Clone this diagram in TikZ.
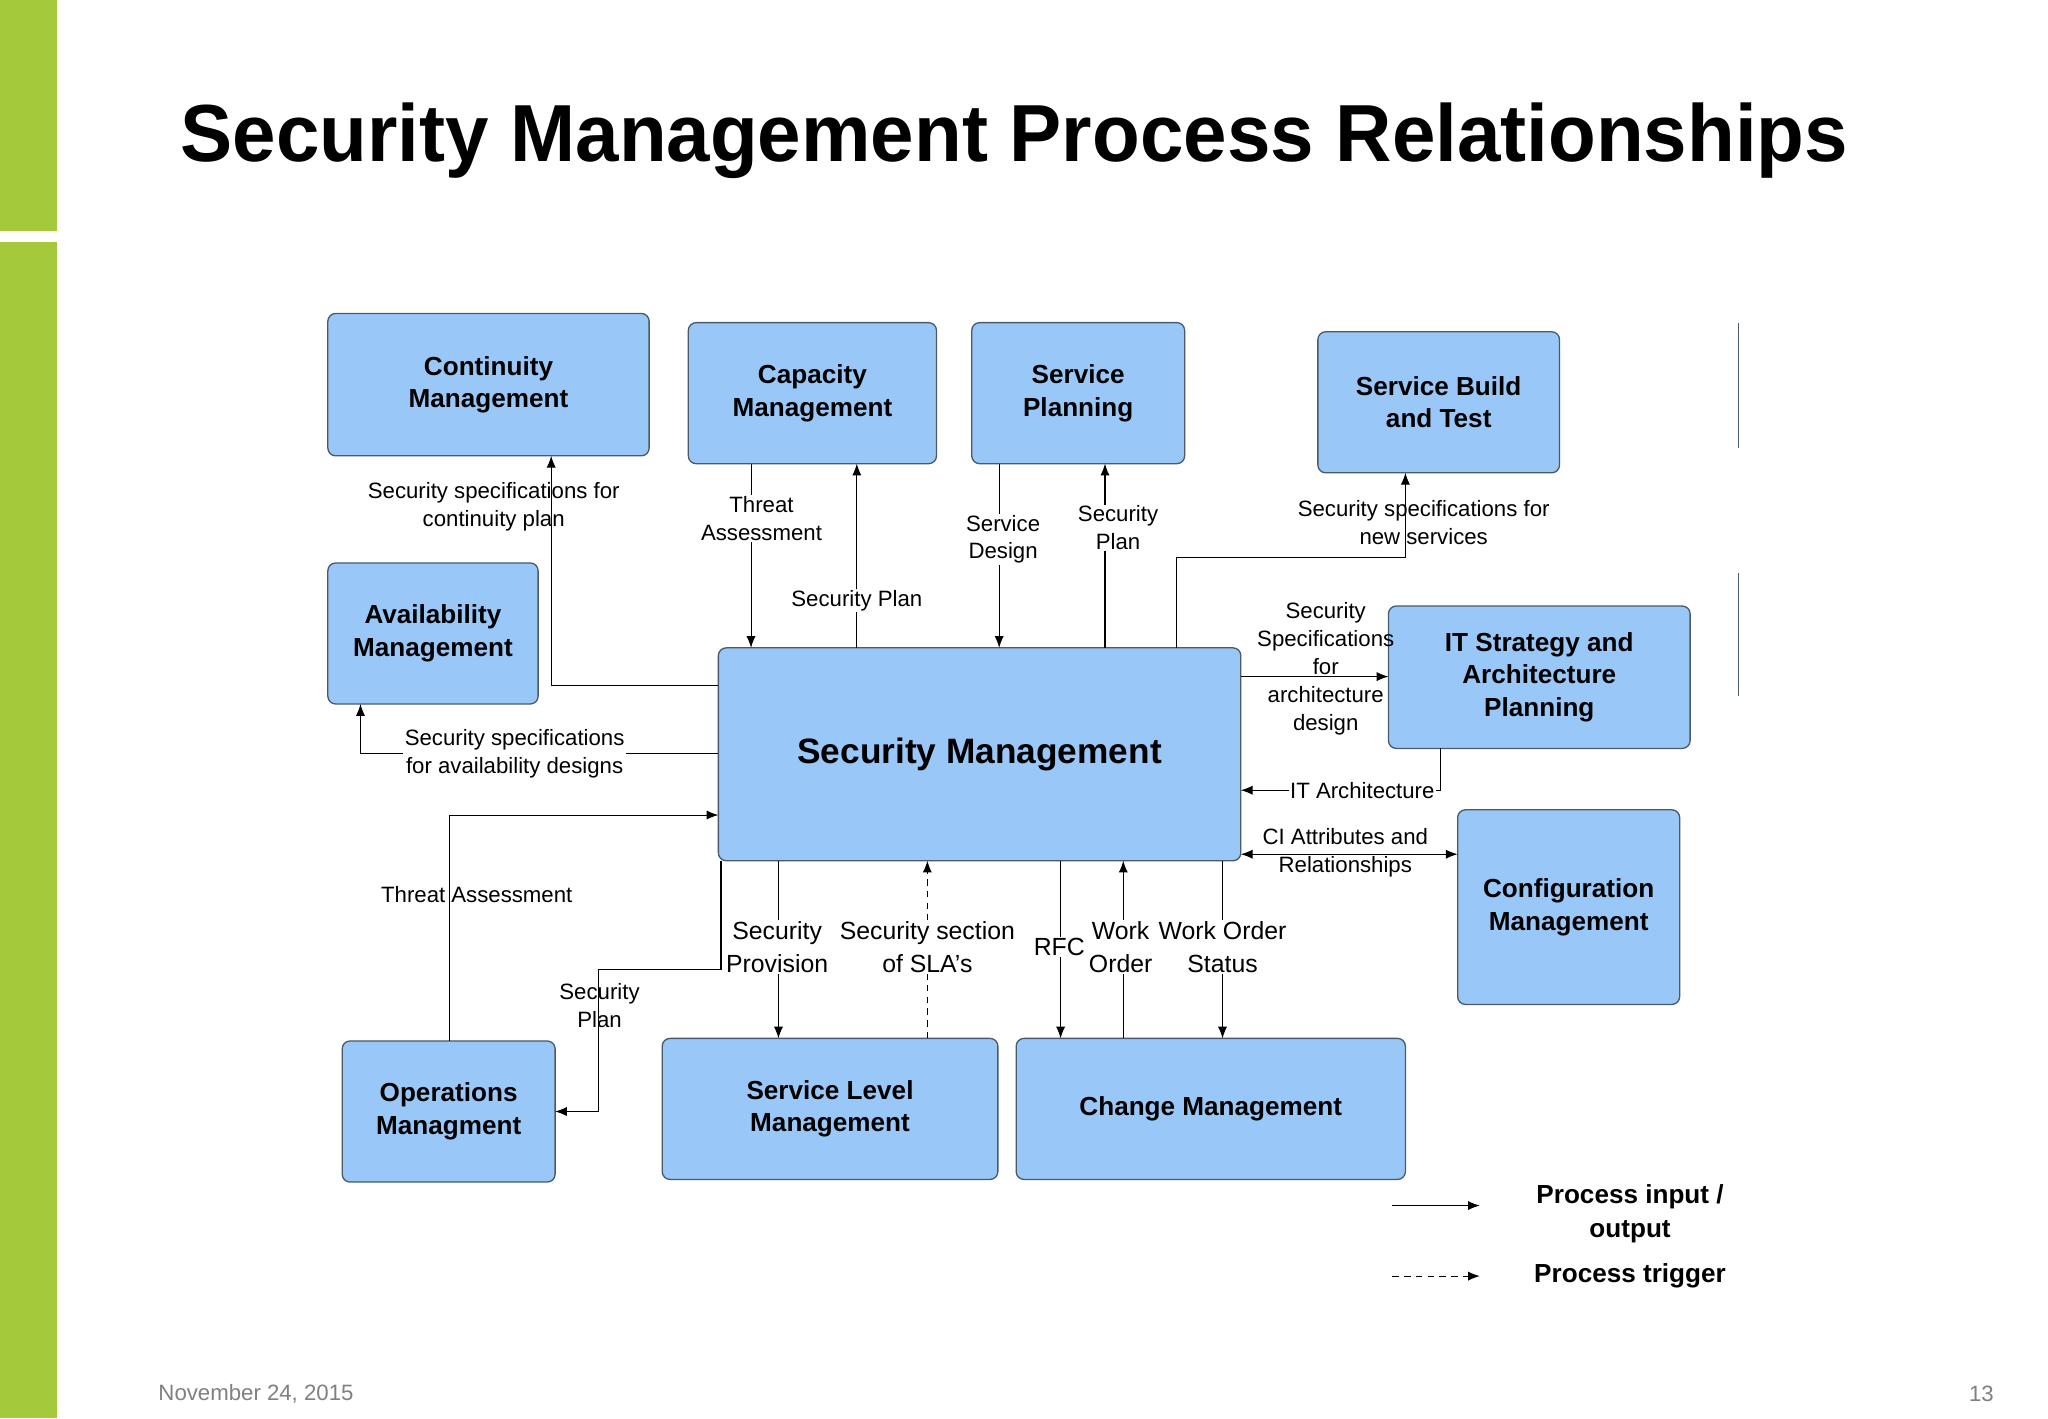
\documentclass[tikz,border=0pt]{standalone}
\usepackage{fontspec}
\setmainfont{Liberation Sans}
\usetikzlibrary{arrows.meta}
\definecolor{boxfill}{HTML}{99C8F8}
\definecolor{boxline}{HTML}{4A5A6A}
\definecolor{barg}{HTML}{A4C93A}
\tikzset{
 box/.style={draw=boxline,line width=1pt,fill=boxfill,rounded corners=6pt,inner sep=0pt,outer sep=0pt,align=center,font=\fontsize{20}{25}\selectfont\bfseries},
 lbl/.style={align=center,font=\fontsize{17}{21}\selectfont,inner sep=1pt},
 arr/.style={-{Latex[length=9pt,width=7pt]},line width=0.8pt},
 darr/.style={arr,dash pattern=on 5pt off 4pt},
}
\begin{document}
\begin{tikzpicture}[x=1pt,y=-1pt]
\useasboundingbox (0,0) rectangle (1568,1086);
\fill[white] (0,0) rectangle (1568,1086);
\fill[barg] (0,0) rectangle (44,177);
\fill[barg] (0,185) rectangle (44,1086);
\node[font=\fontsize{62}{70}\selectfont\bfseries,anchor=west,inner sep=0pt,xscale=0.965] (title) at (138,108) {Security Management Process Relationships};

\node[box,minimum width=246pt,minimum height=109pt] (cont) at (374,294.5) {Continuity\\Management};
\node[box,minimum width=190pt,minimum height=108pt] (cap) at (622,301) {Capacity\\Management};
\node[box,minimum width=163pt,minimum height=108pt] (sp) at (825.5,301) {Service\\Planning};
\node[box,minimum width=185pt,minimum height=108pt] (sb) at (1101.5,308) {Service Build\\and Test};
\node[box,minimum width=161pt,minimum height=108pt] (av) at (331.5,485) {Availability\\Management};
\node[box,minimum width=400pt,minimum height=163pt,font=\fontsize{27}{32}\selectfont\bfseries] (sm) at (750,577.5) {Security Management};
\node[box,minimum width=231pt,minimum height=109pt] (it) at (1178.5,518.5) {IT Strategy and\\Architecture\\Planning};
\node[box,minimum width=170pt,minimum height=149pt] (cf) at (1201,694.5) {Configuration\\Management};
\node[box,minimum width=163pt,minimum height=108pt] (ops) at (343.5,851) {Operations\\Managment};
\node[box,minimum width=257pt,minimum height=108pt] (slm) at (635.5,849) {Service Level\\Management};
\node[box,minimum width=298pt,minimum height=108pt] (chg) at (927,849) {Change Management};

\draw[boxline,line width=1pt] (1331,247) -- (1331,343) (1331,439) -- (1331,533);

% connectors
\draw[arr] (sm.west |- 0,525) -| (cont.south -| 422,0);
\node[lbl] (l1) at (378,388) {Security specifications for\\continuity plan};
\draw[arr] (cap.south -| 575,0) -- (sm.north -| 575,0);
\node[lbl,fill=white] (l2) at (583,397) {Threat\\Assessment};
\draw[arr] (sm.north -| 656,0) -- (cap.south -| 656,0);
\node[lbl,fill=white] (l3) at (656,460) {Security Plan};
\draw[arr] (sp.south -| 765,0) -- (sm.north -| 765,0);
\node[lbl,fill=white] (l4) at (768,413) {Service\\Design};
\draw[arr] (sm.north -| 846,0) -- (sp.south -| 846,0);
\node[lbl,fill=white] (l5) at (856,404) {Security\\Plan};
\draw[arr] (sm.north -| 901,0) -- (901,427) -| (sb.south -| 1076,0);
\node[lbl] (l6) at (1090,400) {Security specifications for\\new services};
\draw[arr] (sm.west |- 0,577) -| (av.south -| 276,0);
\node[lbl,fill=white] (l7) at (394,577) {Security specifications\\for availability designs};
\draw[arr] (ops.north -| 344,0) |- (sm.west |- 0,624);
\node[lbl] (l8) at (365,685) {Threat Assessment};
\draw[arr] (sm.south -| 552,0) |- (458,742) |- (ops.east |- 0,851);
\node[lbl] (l9) at (459,770) {Security\\Plan};
\draw[arr] (sm.south -| 596,0) -- (slm.north -| 596,0);
\node[lbl,fill=white,font=\fontsize{19}{25}\selectfont] (l10) at (595,725) {Security\\Provision};
\draw[darr] (slm.north -| 710,0) -- (sm.south -| 710,0);
\node[lbl,fill=white,font=\fontsize{19}{25}\selectfont] (l11) at (710,725) {Security section\\of SLA’s};
\draw[arr] (sm.south -| 812,0) -- (chg.north -| 812,0);
\node[lbl,fill=white,font=\fontsize{19}{25}\selectfont] (l12) at (811,725) {RFC};
\draw[arr] (chg.north -| 860,0) -- (sm.south -| 860,0);
\node[lbl,fill=white,font=\fontsize{19}{25}\selectfont] (l13) at (858,725) {Work\\Order};
\draw[arr] (sm.south -| 936,0) -- (chg.north -| 936,0);
\node[lbl,fill=white,font=\fontsize{19}{25}\selectfont] (l14) at (936,725) {Work Order\\Status};
\draw[arr] (sm.east |- 0,518) -- (it.west |- 0,518);
\node[lbl,font=\fontsize{17}{21.5}\selectfont] (l15) at (1015,512) {Security\\Specifications\\for\\architecture\\design};
\draw[arr] (it.south -| 1103,0) |- (sm.east |- 0,605);
\node[lbl,fill=white] (l16) at (1043,605) {IT Architecture};
\draw[arr,{Latex[length=9pt,width=7pt]}-{Latex[length=9pt,width=7pt]}] (sm.east |- 0,654) -- (cf.west |- 0,654);
\node[lbl] (l17) at (1030,653) {CI Attributes and\\Relationships};

% legend
\coordinate (a1) at (1066,923); \coordinate (a2) at (1133,923);
\coordinate (b1) at (1066,977); \coordinate (b2) at (1133,977);
\draw[arr] (a1) -- (a2);
\draw[darr] (b1) -- (b2);
\node[lbl,font=\fontsize{20}{26}\selectfont\bfseries] (lg1) at (1248,929) {Process input /\\output};
\node[lbl,font=\fontsize{20}{26}\selectfont\bfseries] (lg2) at (1248,977) {Process trigger};

\node[font=\fontsize{17}{20}\selectfont,text=gray] (date) at (196,1067) {November 24, 2015};
\node[font=\fontsize{17}{20}\selectfont,text=gray] (pg) at (1517,1067) {13};
\end{tikzpicture}
\end{document}
